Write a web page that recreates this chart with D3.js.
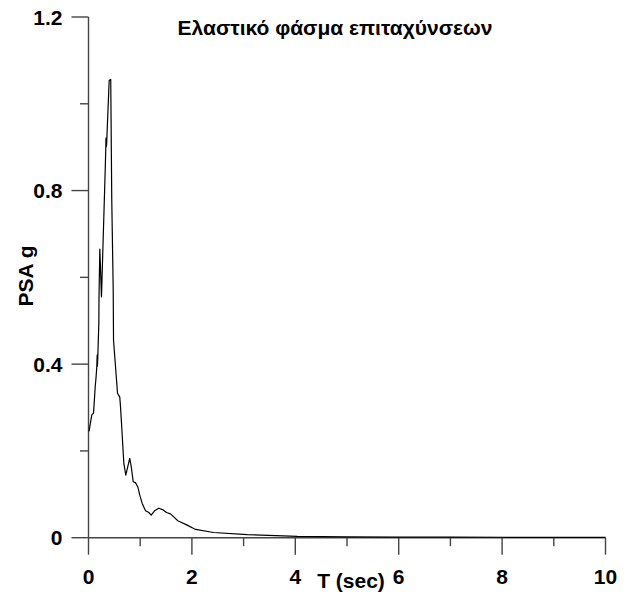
<!DOCTYPE html>
<html>
<head>
<meta charset="utf-8">
<script src="https://cdn.jsdelivr.net/npm/d3@7"></script>
<style>
  html, body { margin: 0; padding: 0; background: #fff; }
  svg { display: block; }
  text { font-family: "Liberation Sans", Arial, sans-serif; font-weight: bold; fill: #000; }
</style>
</head>
<body>
<svg id="chart" width="638" height="597"></svg>
<script>
// Elastic acceleration response spectrum: period T (s) vs PSA (g)
const periods = [0.01, 0.064, 0.097, 0.13, 0.145, 0.16, 0.168, 0.172, 0.178, 0.2, 0.203, 0.219, 0.251,
  0.323, 0.335, 0.338, 0.342, 0.35, 0.40, 0.43, 0.45, 0.478, 0.484, 0.528, 0.561, 0.605, 0.619,
  0.648, 0.683, 0.721, 0.76, 0.797, 0.826, 0.865, 0.909, 0.954, 0.992, 1.039, 1.103, 1.166,
  1.213, 1.277, 1.36, 1.445, 1.509, 1.586, 1.65, 1.727, 1.909, 2.07, 2.42, 3.07, 4.04, 5.0,
  6.0, 7.0, 8.0, 9.0, 10.0];
const psa = [0.245, 0.283, 0.287, 0.348, 0.368, 0.393, 0.421, 0.395, 0.41, 0.494, 0.552, 0.665, 0.555,
  0.847, 0.901, 0.921, 0.9, 0.905, 1.054, 1.056, 0.778, 0.571, 0.455, 0.386, 0.333, 0.324, 0.302,
  0.244, 0.172, 0.144, 0.164, 0.183, 0.164, 0.129, 0.127, 0.117, 0.098, 0.079, 0.062, 0.058,
  0.052, 0.062, 0.068, 0.064, 0.058, 0.055, 0.048, 0.039, 0.029, 0.019, 0.012, 0.007, 0.003, 0.002,
  0.0015, 0.0012, 0.001, 0.0008, 0.0007];

const xTicks = [0, 1, 2, 3, 4, 5, 6, 7, 8, 9, 10];
const xLabels = [0, 2, 4, 6, 8, 10];
const yTicks = [0, 0.2, 0.4, 0.6, 0.8, 1.0, 1.2];
const yLabels = [0, 0.4, 0.8, 1.2];

const title = "Ελαστικό φάσμα επιταχύνσεων";
const xTitle = "T (sec)";
const yTitle = "PSA g";

const svg = d3.select("#chart");
const x = d3.scaleLinear().domain([0, 10]).range([88.5, 605.5]);
const y = d3.scaleLinear().domain([0, 1.2]).range([537.7, 17]);

const axisColor = "#444";
const majorLen = 17, minorLen = 8.5;
const fontSize = 21;

// X axis with long ticks at labelled values, short ticks between
const gx = svg.append("g").attr("transform", `translate(0,${y(0)})`);
gx.append("line").attr("x1", x(0)).attr("x2", x(10))
  .attr("stroke", axisColor).attr("stroke-width", 1.4);
gx.selectAll("line.tick").data(xTicks).join("line")
  .attr("class", "tick")
  .attr("x1", d => x(d)).attr("x2", d => x(d))
  .attr("y1", 0).attr("y2", d => xLabels.includes(d) ? majorLen : minorLen)
  .attr("stroke", axisColor).attr("stroke-width", 1.4);
gx.selectAll("text").data(xLabels).join("text")
  .attr("x", d => x(d)).attr("y", 46)
  .attr("text-anchor", "middle").attr("font-size", fontSize)
  .text(d => d);

// Y axis
const gy = svg.append("g").attr("transform", `translate(${x(0)},0)`);
gy.append("line").attr("y1", y(0)).attr("y2", y(1.2))
  .attr("stroke", axisColor).attr("stroke-width", 1.4);
gy.selectAll("line.tick").data(yTicks).join("line")
  .attr("class", "tick")
  .attr("y1", d => y(d)).attr("y2", d => y(d))
  .attr("x1", 0).attr("x2", d => yLabels.some(v => Math.abs(v - d) < 1e-9) ? -majorLen : -minorLen)
  .attr("stroke", axisColor).attr("stroke-width", 1.4);
gy.selectAll("text").data(yLabels).join("text")
  .attr("x", -26).attr("y", d => y(d)).attr("dy", "0.36em")
  .attr("text-anchor", "end").attr("font-size", fontSize)
  .text(d => d === 0 ? "0" : d.toFixed(1));

// Spectrum curve
const line = d3.line().x((d, i) => x(periods[i])).y(d => y(d));
svg.append("path").datum(psa)
  .attr("d", line)
  .attr("fill", "none").attr("stroke", "#000").attr("stroke-width", 1.2)
  .attr("stroke-linejoin", "round");

// Titles
svg.append("text").attr("x", 335).attr("y", 35)
  .attr("text-anchor", "middle").attr("font-size", fontSize).text(title);
svg.append("text").attr("x", 351).attr("y", 588)
  .attr("text-anchor", "middle").attr("font-size", fontSize).text(xTitle);
svg.append("text").attr("transform", "translate(33,276) rotate(-90)")
  .attr("text-anchor", "middle").attr("font-size", fontSize).text(yTitle);
</script>
</body>
</html>
